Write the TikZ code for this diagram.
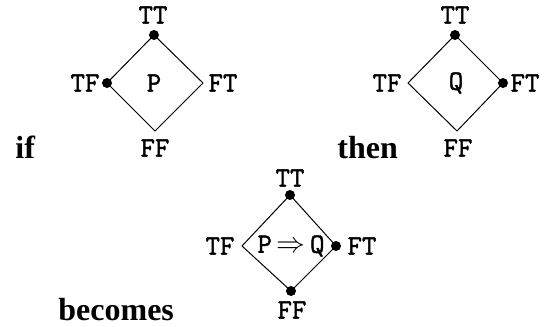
\documentclass[tikz,border=0pt]{standalone}
\usepackage{fontspec}
\setmainfont{Liberation Serif}
\newfontfamily\lblfont[FakeBold=1.5]{Latin Modern Mono}
\usepackage{tikz}

\begin{document}
\begin{tikzpicture}[x=0.5pt, y=-0.5pt,
  lbl/.style={font=\lblfont\fontsize{14}{14}\selectfont, inner sep=0pt},
  word/.style={font=\bfseries\fontsize{16}{16}\selectfont, inner sep=0pt, anchor=base west},
  edge/.style={line width=0.5pt},
  dot/.style={circle, fill, inner sep=0pt, minimum size=5pt}]

  \useasboundingbox (0,0) rectangle (550,326);

  % --- Diamond for P ---
  \coordinate (Pt) at (154,35);
  \coordinate (Pr) at (203,83);
  \coordinate (Pb) at (155,131);
  \coordinate (Pl) at (107,83);
  \draw[edge] (Pt) -- (Pr) -- (Pb) -- (Pl) -- cycle;
  \node[dot] (Ptd) at (Pt) {};
  \node[dot] (Pld) at (Pl) {};

  \node[lbl] (P) at (154,83) {P};
  \node[lbl] (PTT) at (153,15) {TT};
  \node[lbl] (PTF) at (85,83) {TF};
  \node[lbl] (PFT) at (223,83) {FT};
  \node[lbl] (PFF) at (155,148) {FF};

  % --- Diamond for Q ---
  \coordinate (Qt) at (455,35);
  \coordinate (Qr) at (503,83);
  \coordinate (Qb) at (457,131);
  \coordinate (Ql) at (408,83);
  \draw[edge] (Qt) -- (Qr) -- (Qb) -- (Ql) -- cycle;
  \node[dot] (Qtd) at (Qt) {};
  \node[dot] (Qrd) at (Qr) {};

  \node[lbl] (Q) at (456,83) {Q};
  \node[lbl] (QTT) at (455,15) {TT};
  \node[lbl] (QTF) at (387,83) {TF};
  \node[lbl] (QFT) at (525,83) {FT};
  \node[lbl] (QFF) at (458,148) {FF};

  % --- Diamond for P => Q ---
  \coordinate (It) at (290,195);
  \coordinate (Ir) at (336,246);
  \coordinate (Ib) at (291,291);
  \coordinate (Il) at (242,246);
  \draw[edge] (It) -- (Ir) -- (Ib) -- (Il) -- cycle;
  \node[dot] (Itd) at (It) {};
  \node[dot] (Ird) at (Ir) {};
  \node[dot] (Ibd) at (Ib) {};

  \node[lbl] (PQ) at (291,246) {P\,$\Rightarrow$\,Q};
  \node[lbl] (ITT) at (290,178) {TT};
  \node[lbl] (ITF) at (220,246) {TF};
  \node[lbl] (IFT) at (362,246) {FT};
  \node[lbl] (IFF) at (292,310) {FF};

  % --- Words ---
  \node[word] (if) at (15,158) {if};
  \node[word] (then) at (337,158) {then};
  \node[word] (becomes) at (58,320) {becomes};

\end{tikzpicture}
\end{document}
